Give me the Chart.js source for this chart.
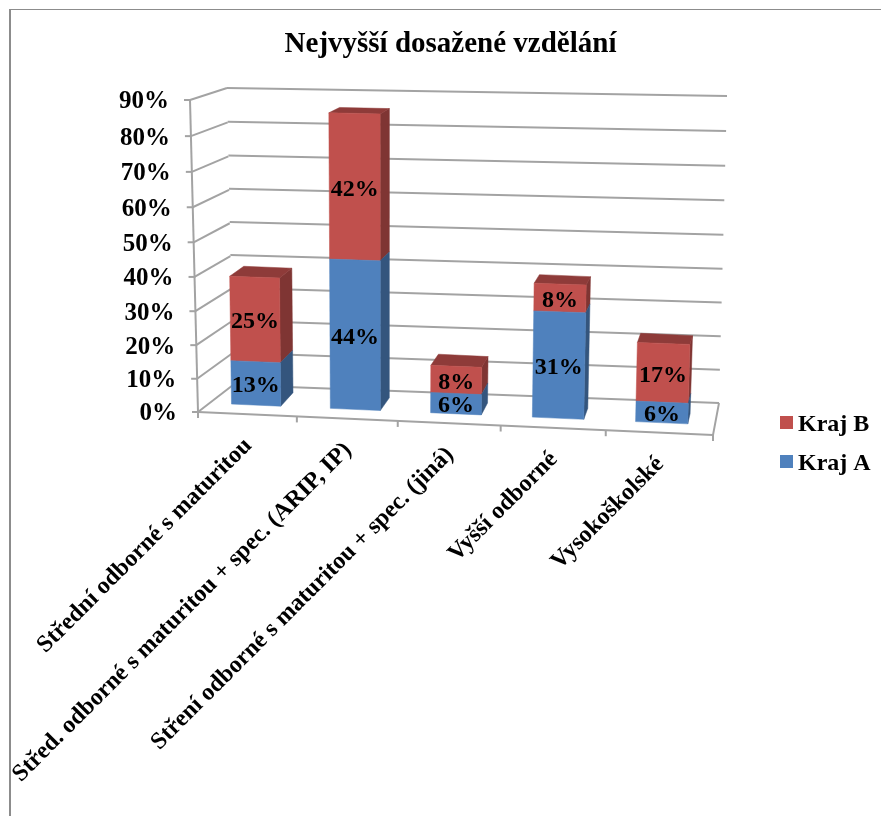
<!DOCTYPE html>
<html>
<head>
<meta charset="utf-8">
<style>
  html, body { margin: 0; padding: 0; background: #fff; }
  canvas { display: block; }
</style>
<script src="https://cdn.jsdelivr.net/npm/chart.js@4"></script>
</head>
<body>
<canvas id="chart" width="881" height="816"></canvas>
<script>
const categories = [
  'Střední odborné s maturitou',
  'Střed. odborné s maturitou + spec. (ARIP, IP)',
  'Stření odborné s maturitou + spec. (jiná)',
  'Vyšší odborné',
  'Vysokoškolské'
];
const krajA = [13, 44, 6, 31, 6];
const krajB = [25, 42, 8, 8, 17];
const chartTitle = 'Nejvyšší dosažené vzdělání';

const SERIF = '"Liberation Serif", "Times New Roman", serif';
const INK = '#000';
const GRID = '#a3a3a3';

// Corners of the scene planes on the canvas: [top-left, top-right, bottom-right, bottom-left].
const PLANES = {
  barFront: [[202, 96], [723.5, 107], [714, 425], [207, 403]],
  barBack:  [[217, 91], [726.5, 102], [716, 415], [222, 389]],
  backWall: [[227, 88], [727, 96], [719, 403], [233, 385]],
  sideWall: [[190, 100], [227, 88], [233, 385], [198, 412]],
  floor:    [[233, 385], [719, 403], [713, 435], [198, 412]],
  axisFace: [[190, 100], [727, 107], [713, 435], [198, 412]]
};

// Homography taking the unit square onto a quadrilateral.
function homography(q) {
  const [[x0, y0], [x1, y1], [x2, y2], [x3, y3]] = q;
  const dx1 = x1 - x2, dx2 = x3 - x2, sx = x0 - x1 + x2 - x3;
  const dy1 = y1 - y2, dy2 = y3 - y2, sy = y0 - y1 + y2 - y3;
  const den = dx1 * dy2 - dx2 * dy1;
  const g = (sx * dy2 - dx2 * sy) / den;
  const h = (dx1 * sy - sx * dy1) / den;
  const a = x1 - x0 + g * x1, b = x3 - x0 + h * x3;
  const d = y1 - y0 + g * y1, e = y3 - y0 + h * y3;
  return (u, v) => {
    const w = g * u + h * v + 1;
    return [(a * u + b * v + x0) / w, (d * u + e * v + y0) / w];
  };
}
const project = Object.fromEntries(Object.entries(PLANES).map(([k, q]) => [k, homography(q)]));

let area = null;
let drawingDataset = 0;
const toU = x => (x - area.left) / area.width;
const toV = y => (y - area.top) / area.height;
const onPlane = (name, x, y) => project[name](toU(x), toV(y));

function fillPoly(ctx, pts, color) {
  ctx.beginPath();
  pts.forEach((p, i) => i ? ctx.lineTo(p[0], p[1]) : ctx.moveTo(p[0], p[1]));
  ctx.closePath();
  ctx.fillStyle = color;
  ctx.fill();
  ctx.strokeStyle = color;
  ctx.lineWidth = 0.5;
  ctx.stroke();
}

function shade(hex, k) {
  const n = parseInt(hex.slice(1), 16);
  const c = [n >> 16, (n >> 8) & 255, n & 255].map(v => Math.round(v * k));
  return `rgb(${c[0]},${c[1]},${c[2]})`;
}

// Stacked segments are drawn as prisms: front face, right face and, on the top segment, a lid.
Chart.BarElement.prototype.draw = function (ctx) {
  const { x, y, base, width } = this.getProps(['x', 'y', 'base', 'width'], true);
  const l = x - width / 2, r = x + width / 2;
  const color = this.options.backgroundColor;
  const fTL = onPlane('barFront', l, y), fTR = onPlane('barFront', r, y);
  const fBR = onPlane('barFront', r, base), fBL = onPlane('barFront', l, base);
  const bTL = onPlane('barBack', l, y), bTR = onPlane('barBack', r, y);
  const bBR = onPlane('barBack', r, base);
  ctx.save();
  fillPoly(ctx, [fTR, bTR, bBR, fBR], shade(color, 0.66));
  if (drawingDataset === 1) {
    fillPoly(ctx, [fTL, fTR, bTR, bTL], shade(color, 0.74));
  }
  fillPoly(ctx, [fTL, fTR, fBR, fBL], color);
  ctx.restore();
};

function strokeLine(ctx, a, b) {
  ctx.beginPath();
  ctx.moveTo(a[0], a[1]);
  ctx.lineTo(b[0], b[1]);
  ctx.stroke();
}

const scenePlugin = {
  id: 'scene',
  beforeDatasetDraw(chart, args) {
    drawingDataset = args.index;
  },
  beforeDatasetsDraw(chart) {
    const { ctx, scales: { x: xs, y: ys } } = chart;
    area = chart.chartArea;
    ctx.save();

    // Page frame
    ctx.strokeStyle = '#8c8c8c';
    ctx.lineWidth = 2;
    strokeLine(ctx, [10, 816], [10, 9.5]);
    ctx.lineWidth = 1.2;
    strokeLine(ctx, [9, 9.5], [881, 9.5]);

    // Walls, floor and tick marks
    ctx.strokeStyle = GRID;
    ctx.lineWidth = 2;
    ys.ticks.forEach(t => {
      const v = toV(ys.getPixelForValue(t.value));
      strokeLine(ctx, project.backWall(0, v), project.backWall(1, v));
      strokeLine(ctx, project.sideWall(0, v), project.sideWall(1, v));
      const p = project.sideWall(0, v);
      strokeLine(ctx, p, [p[0] - 6, p[1]]);
    });
    strokeLine(ctx, project.sideWall(0, 0), project.sideWall(0, 1));
    strokeLine(ctx, project.axisFace(0, 1), project.axisFace(1, 1));
    strokeLine(ctx, project.floor(1, 0), project.floor(1, 1));
    for (let i = 0; i <= categories.length; i++) {
      const p = project.axisFace(toU(xs.getPixelForValue(i - 0.5)), 1);
      strokeLine(ctx, p, [p[0], p[1] + 6]);
    }

    // Value labels on the left edge
    ctx.fillStyle = INK;
    ctx.font = `bold 25px ${SERIF}`;
    ctx.textAlign = 'right';
    ctx.textBaseline = 'middle';
    ys.ticks.forEach(t => {
      const p = project.sideWall(0, toV(ys.getPixelForValue(t.value)));
      ctx.fillText(t.label, p[0] - 21, p[1] + 2);
    });

    // Category labels, slanted under the front edge
    ctx.font = `bold 24px ${SERIF}`;
    xs.ticks.forEach((t, i) => {
      const p = project.axisFace(toU(xs.getPixelForValue(i)), 1);
      ctx.save();
      ctx.translate(p[0] + 1, p[1] + 28);
      ctx.rotate(-Math.PI / 4);
      ctx.fillText(categories[i], 0, 0);
      ctx.restore();
    });
    ctx.restore();
  },
  afterDatasetsDraw(chart) {
    const { ctx } = chart;
    ctx.save();
    ctx.fillStyle = INK;
    ctx.font = `bold 24px ${SERIF}`;
    ctx.textAlign = 'center';
    ctx.textBaseline = 'middle';
    chart.data.datasets.forEach((ds, di) => {
      chart.getDatasetMeta(di).data.forEach((bar, i) => {
        const p = onPlane('barFront', bar.x, (bar.y + bar.base) / 2);
        ctx.fillText(ds.data[i] + '%', p[0], p[1] + 2.5);
      });
    });

    // Legend block beside the plot
    ctx.textAlign = 'left';
    ctx.font = `bold 24px ${SERIF}`;
    chart.legend.legendItems.forEach((item, i) => {
      const top = 416 + i * 39;
      ctx.fillStyle = item.fillStyle;
      ctx.fillRect(780, top, 13, 13);
      ctx.fillStyle = INK;
      ctx.fillText(item.text, 798, top + 9);
    });
    ctx.restore();
  }
};

new Chart(document.getElementById('chart'), {
  type: 'bar',
  data: {
    labels: categories,
    datasets: [
      { label: 'Kraj A', data: krajA, backgroundColor: '#4F81BD' },
      { label: 'Kraj B', data: krajB, backgroundColor: '#C0504D' }
    ]
  },
  options: {
    responsive: false,
    animation: false,
    layout: { padding: { left: 20, right: 0, top: 0, bottom: 0 } },
    datasets: { bar: { categoryPercentage: 1, barPercentage: 0.5 } },
    scales: {
      x: { stacked: true, grid: { display: false }, border: { display: false }, ticks: { display: false } },
      y: {
        stacked: true, min: 0, max: 90,
        grid: { display: false }, border: { display: false },
        ticks: { display: false, stepSize: 10, callback: v => v + '%' }
      }
    },
    plugins: {
      legend: { display: false, reverse: true },
      tooltip: { enabled: false },
      title: {
        display: true,
        text: chartTitle,
        color: INK,
        font: { family: SERIF, size: 29, weight: 'bold' },
        padding: { top: 27, bottom: 10 }
      }
    }
  },
  plugins: [scenePlugin]
});
</script>
</body>
</html>
